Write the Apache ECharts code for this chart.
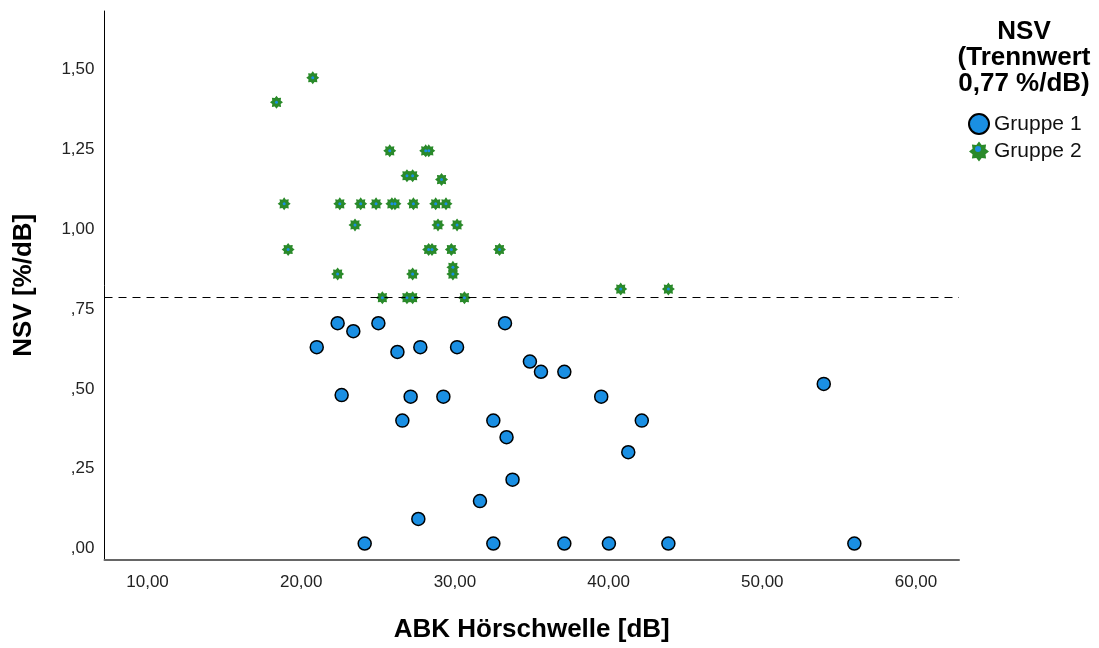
<!DOCTYPE html>
<html>
<head>
<meta charset="utf-8">
<style>
  html, body { margin: 0; padding: 0; background: #fff; }
  #chart { width: 1099px; height: 648px; }
</style>
<script src="https://cdn.jsdelivr.net/npm/echarts@6/dist/echarts.min.js"></script>
</head>
<body>
<div id="chart"></div>
<script>
// NSV gegen ABK-Hörschwelle, getrennt nach Gruppe (Trennwert 0,77 %/dB)
const group1X = [22.37, 23.39, 25.02, 33.26, 21.01, 26.26, 27.75, 30.14, 34.88, 35.60,
                 37.12, 22.63, 27.12, 29.25, 26.58, 32.50, 33.36, 33.75, 31.63, 27.62,
                 24.13, 32.50, 39.52, 42.16, 41.28, 54.00, 37.12, 40.02, 43.89, 55.99];
const group1Y = [0.69, 0.665, 0.69, 0.69, 0.615, 0.60, 0.615, 0.615, 0.57, 0.538,
                 0.538, 0.465, 0.46, 0.46, 0.385, 0.385, 0.333, 0.20, 0.133, 0.077,
                 0.00, 0.00, 0.46, 0.385, 0.286, 0.50, 0.00, 0.00, 0.00, 0.00];

const group2X = [18.39, 20.75, 25.76, 28.10, 28.30, 26.88, 27.25, 29.13,
                 18.89, 22.51, 23.87, 24.87, 25.90, 26.10, 27.30, 28.75, 29.42,
                 23.50, 28.90, 30.14,
                 19.15, 28.29, 28.51, 29.77, 32.90,
                 29.87,
                 22.37, 27.25, 29.87,
                 25.28, 26.88, 27.25, 30.62,
                 40.79, 43.89];
const group2Y = [1.382, 1.459, 1.23, 1.23, 1.23, 1.152, 1.152, 1.14,
                 1.064, 1.064, 1.064, 1.064, 1.064, 1.064, 1.064, 1.064, 1.064,
                 0.998, 0.998, 0.998,
                 0.921, 0.921, 0.921, 0.921, 0.921,
                 0.865,
                 0.844, 0.844, 0.844,
                 0.77, 0.77, 0.77, 0.77,
                 0.797, 0.797];

const cutoff = 0.77;
const xTicks = [10, 20, 30, 40, 50, 60];
const yTicks = [0, 0.25, 0.5, 0.75, 1.0, 1.25, 1.5];

const BLUE = '#1a8fe3';
const GREEN = '#2a8a2a';
const STAR = 'path://M100 50 L82.34 63.39 L85.36 85.36 L63.39 82.34 L50 100 L36.61 82.34 L14.64 85.36 L17.66 63.39 L0 50 L17.66 36.61 L14.64 14.64 L36.61 17.66 L50 0 L63.39 17.66 L85.36 14.64 L82.34 36.61 Z';
const FONT = '"Liberation Sans", Arial, sans-serif';

const pairs = (xs, ys) => xs.map((x, i) => [x, ys[i]]);
const near = (v, list) => list.some(t => Math.abs(v - t) < 1e-6);
const deComma = (v, digits) => {
  const s = v.toFixed(digits).replace('.', ',');
  return s.startsWith('0,') ? s.slice(1) : s;
};

const chart = echarts.init(document.getElementById('chart'), null, { renderer: 'canvas' });
chart.setOption({
  animation: false,
  backgroundColor: '#ffffff',
  textStyle: { fontFamily: FONT },
  grid: { left: 104.5, right: 140, top: 11, bottom: 85.5, containLabel: false },
  xAxis: {
    type: 'value',
    // fine step so that the labelled values 10 … 60 fall on ticks
    min: 7.2, max: 62.8, interval: 0.2,
    name: 'ABK Hörschwelle [dB]',
    nameLocation: 'middle', nameGap: 57.5,
    nameTextStyle: { fontFamily: FONT, fontSize: 26, fontWeight: 'bold', color: '#000' },
    axisLine: { show: true, onZero: false, lineStyle: { color: '#666', width: 2 } },
    axisTick: { show: false },
    splitLine: { show: false },
    axisLabel: {
      interval: 0, hideOverlap: false,
      fontFamily: FONT, fontSize: 17, color: '#222', margin: 14,
      formatter: v => near(v, xTicks) ? v.toFixed(2).replace('.', ',') : ''
    }
  },
  yAxis: {
    type: 'value',
    min: -0.05, max: 1.668, interval: 0.05,
    name: 'NSV [%/dB]',
    nameLocation: 'middle', nameGap: 68,
    nameTextStyle: { fontFamily: FONT, fontSize: 26, fontWeight: 'bold', color: '#000' },
    axisLine: { show: true, onZero: false, lineStyle: { color: '#000', width: 1 } },
    axisTick: { show: false },
    splitLine: { show: false },
    axisLabel: {
      interval: 0, hideOverlap: false,
      fontFamily: FONT, fontSize: 17, color: '#222', margin: 10,
      formatter: v => near(v, yTicks) ? '{t|' + deComma(v, 2) + '}' : '',
      rich: {
        t: { fontFamily: FONT, fontSize: 17, color: '#222', padding: [10, 0, 0, 0] }
      }
    }
  },
  legend: {
    data: ['Gruppe 1', 'Gruppe 2'],
    orient: 'vertical',
    left: 968, top: 113,
    padding: 0,
    itemWidth: 20, itemHeight: 20, itemGap: 6,
    textStyle: { fontFamily: FONT, fontSize: 21, color: '#111' },
    selectedMode: false
  },
  series: [
    {
      name: 'Gruppe 1',
      type: 'scatter',
      symbol: 'circle',
      symbolSize: 13,
      itemStyle: { color: BLUE, borderColor: '#000', borderWidth: 1.5, opacity: 1 },
      data: pairs(group1X, group1Y),
      markLine: {
        silent: true,
        symbol: 'none',
        label: { show: false },
        lineStyle: { color: '#000', width: 1, type: [8, 6] },
        data: [{ yAxis: cutoff }]
      },
      z: 3
    },
    {
      name: 'Gruppe 2',
      type: 'scatter',
      symbol: STAR,
      symbolSize: 13,
      itemStyle: { color: GREEN, opacity: 1 },
      data: pairs(group2X, group2Y),
      z: 4
    },
    {
      name: 'Gruppe 2 Mitte',
      type: 'scatter',
      symbol: 'circle',
      symbolSize: 3,
      itemStyle: { color: BLUE, opacity: 1 },
      data: pairs(group2X, group2Y),
      silent: true,
      z: 5
    }
  ],
  graphic: [
    {
      type: 'text',
      x: 1024, y: 19,
      style: {
        text: 'NSV\n(Trennwert\n0,77 %/dB)',
        font: 'bold 26px ' + FONT,
        fill: '#000',
        align: 'center',
        verticalAlign: 'top',
        lineHeight: 26
      }
    },
    {
      type: 'circle',
      shape: { cx: 978, cy: 149, r: 3 },
      style: { fill: BLUE },
      z: 100
    }
  ]
});
</script>
</body>
</html>
